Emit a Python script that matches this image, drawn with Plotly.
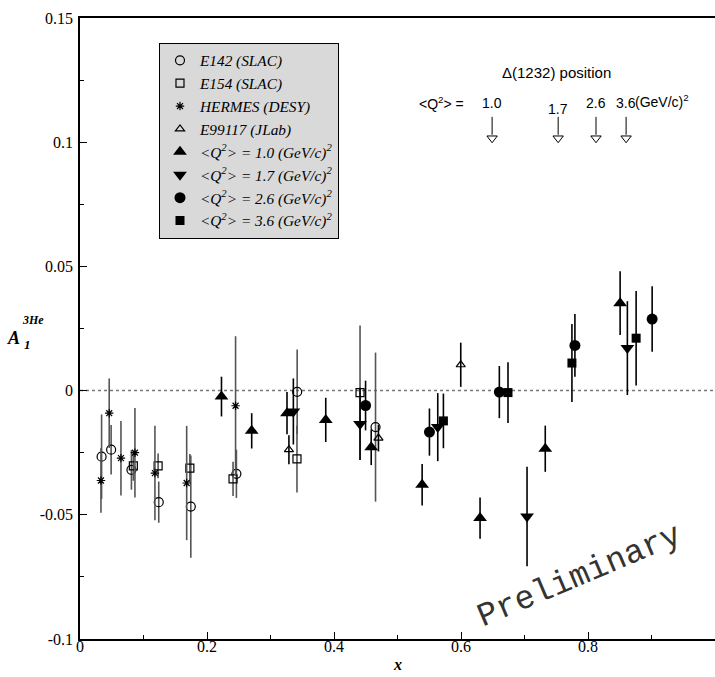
import plotly.graph_objects as go

# ---------------- data ----------------
e142_x = [0.034, 0.049, 0.081, 0.124, 0.1745, 0.2463, 0.342, 0.4654]
e142_y = [-0.0266, -0.0238, -0.0319, -0.0449, -0.0467, -0.0335, -0.0005, -0.0147]
e142_e = [0.017, 0.010, 0.008, 0.0083, 0.0206, 0.0097, 0.017, 0.030]

e154_x = [0.084, 0.123, 0.173, 0.241, 0.3417, 0.441]
e154_y = [-0.0303, -0.0303, -0.0312, -0.0355, -0.0275, -0.0008]
e154_e = [0.006, 0.005, 0.0057, 0.0069, 0.0135, 0.027]

hermes_x = [0.033, 0.046, 0.0645, 0.0865, 0.118, 0.168, 0.245]
hermes_y = [-0.0362, -0.0091, -0.0272, -0.0250, -0.0332, -0.0372, -0.0061]
hermes_e = [0.013, 0.014, 0.015, 0.018, 0.019, 0.023, 0.028]

jlab_x = [0.329, 0.470, 0.5996]
jlab_y = [-0.0238, -0.0191, 0.0104]
jlab_e = [0.0058, 0.0054, 0.0089]

q10_x = [0.2228, 0.2704, 0.326, 0.387, 0.4586, 0.5388, 0.630, 0.7327, 0.8506]
q10_y = [-0.0024, -0.0162, -0.0091, -0.0118, -0.0228, -0.0379, -0.0513, -0.0234, 0.0352]
q10_e = [0.008, 0.0071, 0.0085, 0.0089, 0.0072, 0.0084, 0.0083, 0.0093, 0.0128]

q17_x = [0.336, 0.441, 0.5634, 0.704, 0.862]
q17_y = [-0.0084, -0.0134, -0.0147, -0.0507, 0.0171]
q17_e = [0.0133, 0.0145, 0.0137, 0.020, 0.0189]

q26_x = [0.4497, 0.5503, 0.6604, 0.7794, 0.901]
q26_y = [-0.006, -0.0167, -0.0006, 0.0182, 0.0288]
q26_e = [0.010, 0.0095, 0.0105, 0.0126, 0.0132]

q36_x = [0.5723, 0.674, 0.7747, 0.8758]
q36_y = [-0.0122, -0.0008, 0.0111, 0.0211]
q36_e = [0.011, 0.0122, 0.0157, 0.019]

delta_x = [0.649, 0.753, 0.8126, 0.86]
delta_labels = ["1.0", "1.7", "2.6", "3.6"]
delta_arrow_top = 0.1102
delta_arrow_head = 0.1016
delta_label_y = 0.1158

y_tickvals = [-0.1, -0.05, 0, 0.05, 0.1, 0.15]
y_ticktext = ["-0.1", "-0.05", "0", "0.05", "0.1", "0.15"]
x_tickvals = [0, 0.2, 0.4, 0.6, 0.8, 1.0]
x_ticktext = ["0", "0.2", "0.4", "0.6", "0.8", "1"]

SERIF = "Liberation Serif"
SANS = "Liberation Sans"

# ---------------- figure ----------------
fig = go.Figure()

GRAY = "#555555"
BLACK = "#000000"


def add_series(x, y, e, name, symbol, size, ecolor, lw=1.2):
    fig.add_trace(go.Scatter(
        x=x, y=y, mode="markers", name="<i>" + name + "</i>",
        marker=dict(symbol=symbol, size=size, color=BLACK,
                    line=dict(color=BLACK, width=lw)),
        error_y=dict(type="data", array=e, visible=True, color=ecolor,
                     thickness=1.6, width=0),
    ))


add_series(e142_x, e142_y, e142_e, "E142 (SLAC)", "circle-open", 9, GRAY)
add_series(e154_x, e154_y, e154_e, "E154 (SLAC)", "square-open", 8, GRAY)
add_series(hermes_x, hermes_y, hermes_e, "HERMES (DESY)", "asterisk-open", 7, GRAY)
add_series(jlab_x, jlab_y, jlab_e, "E99117 (JLab)", "triangle-up-open", 8, BLACK)
add_series(q10_x, q10_y, q10_e, "&lt;Q<sup>2</sup>&gt; = 1.0 (GeV/c)<sup>2</sup>",
           "triangle-up", 12, BLACK, 0)
add_series(q17_x, q17_y, q17_e, "&lt;Q<sup>2</sup>&gt; = 1.7 (GeV/c)<sup>2</sup>",
           "triangle-down", 12, BLACK, 0)
add_series(q26_x, q26_y, q26_e, "&lt;Q<sup>2</sup>&gt; = 2.6 (GeV/c)<sup>2</sup>",
           "circle", 11, BLACK, 0)
add_series(q36_x, q36_y, q36_e, "&lt;Q<sup>2</sup>&gt; = 3.6 (GeV/c)<sup>2</sup>",
           "square", 9, BLACK, 0)

# Delta(1232) arrows
ax, ay = [], []
for xv in delta_x:
    ax += [xv, xv, None]
    ay += [delta_arrow_top, delta_arrow_head + 0.0014, None]
fig.add_trace(go.Scatter(x=ax, y=ay, mode="lines", line=dict(color=BLACK, width=1),
                         showlegend=False, hoverinfo="skip"))
fig.add_trace(go.Scatter(x=delta_x, y=[delta_arrow_head] * len(delta_x), mode="markers",
                         marker=dict(symbol="triangle-down-open", size=9, color=BLACK,
                                     line=dict(width=1)),
                         showlegend=False, hoverinfo="skip"))

for xv, lab in zip(delta_x, delta_labels):
    fig.add_annotation(x=xv, y=delta_label_y, text=lab, showarrow=False,
                       yshift=-6 if lab == "1.7" else 0,
                       font=dict(family=SANS, size=14, color=BLACK))

fig.add_annotation(x=0.608, y=delta_label_y, text="&lt;Q<sup>2</sup>&gt; =",
                   xanchor="right", showarrow=False,
                   font=dict(family=SANS, size=14, color=BLACK))
fig.add_annotation(x=0.8715, y=delta_label_y, text="(GeV/c)<sup>2</sup>",
                   xanchor="left", showarrow=False, yshift=2,
                   font=dict(family=SANS, size=14, color=BLACK))
fig.add_annotation(x=0.751, y=0.128, text="Δ(1232) position", showarrow=False,
                   font=dict(family=SANS, size=15, color=BLACK))

# Preliminary
fig.add_annotation(xref="paper", yref="paper", x=0.787, y=0.100,
                   xanchor="center", yanchor="middle",
                   text="Preliminary", showarrow=False, textangle=-23,
                   font=dict(family="Liberation Mono", size=33, color="#333333"))

# zero line
fig.add_shape(type="line", xref="paper", yref="y", x0=0, x1=1, y0=0, y1=0,
              line=dict(color="#777777", width=1.5, dash="dot"), layer="below")

# axis titles
fig.add_annotation(xref="paper", yref="paper", x=0.5, y=-0.041, yanchor="middle",
                   text="<b><i>x</i></b>", showarrow=False,
                   font=dict(family=SERIF, size=16, color=BLACK))
fig.add_annotation(xref="paper", yref="y", x=-0.104, y=0.0212, xanchor="center",
                   text="<b><i>A</i></b>", showarrow=False,
                   font=dict(family=SERIF, size=18, color=BLACK))
fig.add_annotation(xref="paper", yref="y", x=-0.083, y=0.0187, xanchor="center",
                   text="<b><i>1</i></b>", showarrow=False,
                   font=dict(family=SERIF, size=13, color=BLACK))
fig.add_annotation(xref="paper", yref="y", x=-0.074, y=0.0284, xanchor="center",
                   text="<b><i>3He</i></b>", showarrow=False,
                   font=dict(family=SERIF, size=12, color=BLACK))

fig.update_layout(
    width=715, height=677,
    margin=dict(l=80, r=0, t=18, b=38),
    paper_bgcolor="white", plot_bgcolor="white",
    font=dict(family=SERIF, size=16, color=BLACK),
    showlegend=True,
    legend=dict(x=0.1244, y=0.960, xanchor="left", yanchor="top",
                bgcolor="#d9d9d9", bordercolor=BLACK, borderwidth=1,
                font=dict(family=SERIF, size=15.3, color=BLACK),
                tracegroupgap=0, itemsizing="trace"),
    xaxis=dict(range=[0, 1], tickmode="array", tickvals=x_tickvals, ticktext=x_ticktext,
               ticks="inside", ticklen=7, tickwidth=1, tickcolor=BLACK,
               showline=True, linecolor=BLACK, linewidth=1.5, mirror=True,
               showgrid=False, zeroline=False, ticklabelstandoff=-8,
               minor=dict(tickmode="linear", tick0=0, dtick=0.1, ticks="inside",
                          ticklen=4, tickcolor=BLACK, showgrid=False),
               tickfont=dict(family=SERIF, size=16, color=BLACK)),
    yaxis=dict(range=[-0.1, 0.15], tickmode="array", tickvals=y_tickvals, ticktext=y_ticktext,
               ticks="inside", ticklen=7, tickwidth=1, tickcolor=BLACK,
               showline=True, linecolor=BLACK, linewidth=1.5, mirror=False,
               showgrid=False, zeroline=False, ticklabelstandoff=2,
               minor=dict(tickmode="linear", tick0=0, dtick=0.025, ticks="inside",
                          ticklen=4, tickcolor=BLACK, showgrid=False),
               tickfont=dict(family=SERIF, size=16, color=BLACK)),
)

fig.write_html("out.html", config={"displayModeBar": False},
               post_script="document.body.style.margin='0';"
                           "document.body.style.overflow='hidden';")
